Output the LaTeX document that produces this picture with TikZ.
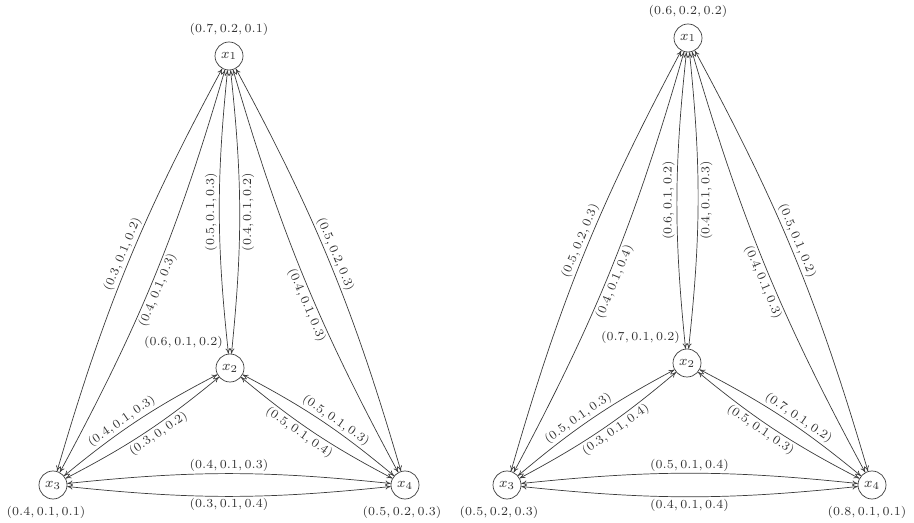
\documentclass[tikz,border=0pt]{standalone}
\usepackage{amsmath,amssymb}
\usepackage{tikz}
\usetikzlibrary{arrows.meta,positioning}
\definecolor{gline}{RGB}{60,60,60}
\definecolor{gtext}{RGB}{50,50,50}
\tikzset{
  vtx/.style={circle, draw=gline, thin, minimum size=5.6mm, inner sep=0pt,
              font=\footnotesize, text=gtext},
  vlab/.style={font=\scriptsize, text=gtext, inner sep=1pt},
  elab/.style={font=\scriptsize, text=gtext, inner sep=1pt, sloped},
  darr/.style={{To[length=1.1mm,width=1mm]}-{To[length=1.1mm,width=1mm]}, gline, thin},
}

\begin{document}
\begin{tikzpicture}[x=0.2mm, y=0.2mm]
        \useasboundingbox (0,0) rectangle (914,522);
        % left graph
        \node[vtx] (a1) at (229,466) {$x_1$};
        \node[vtx] (a2) at (230,154) {$x_2$};
        \node[vtx] (a3) at (53,37) {$x_3$};
        \node[vtx] (a4) at (405,37) {$x_4$};
        \node[vlab, above=0.8mm of a1] (ta1) {$(0.7, 0.2, 0.1)$};
        \node[vlab, above left=1.4mm and -1mm of a2] (ta2) {$(0.6, 0.1, 0.2)$};
        \node[vlab, below=0.9mm of a3, xshift=-1.4mm] (ta3) {$(0.4, 0.1, 0.1)$};
        \node[vlab, below=0.9mm of a4, xshift=-0.6mm] (ta4) {$(0.5, 0.2, 0.3)$};
        \draw[darr] (a3) to[bend left=6] node[elab, pos=0.52, above] {$(0.3,0.1,0.2)$} (a1);
        \draw[darr] (a3) to[bend right=6] node[elab, pos=0.47, below] {$(0.4,0.1,0.3)$} (a1);
        \draw[darr] (a1) to[bend left=6] node[elab, pos=0.48, above] {$(0.5,0.2,0.3)$} (a4);
        \draw[darr] (a1) to[bend right=6] node[elab, pos=0.57, below] {$(0.4,0.1,0.3)$} (a4);
        \draw[darr] (a2) to[bend left=6] node[vlab, pos=0.5, rotate=90, anchor=south] {$(0.5,0.1,0.3)$} (a1);
        \draw[darr] (a2) to[bend right=6] node[vlab, pos=0.5, rotate=90, anchor=north] {$(0.4,0.1,0.2)$} (a1);
        \draw[darr] (a3) to[bend left=6] node[elab, pos=0.42, above] {$(0.4,0.1,0.3)$} (a2);
        \draw[darr] (a3) to[bend right=6] node[elab, pos=0.56, below] {$(0.3,0,0.2)$} (a2);
        \draw[darr] (a2) to[bend left=6] node[elab, pos=0.57, above] {$(0.5,0.1,0.3)$} (a4);
        \draw[darr] (a2) to[bend right=6] node[elab, pos=0.43, below] {$(0.5,0.1,0.4)$} (a4);
        \draw[darr] (a3) to[bend left=6] node[elab, pos=0.5, above] {$(0.4,0.1,0.3)$} (a4);
        \draw[darr] (a3) to[bend right=6] node[elab, pos=0.5, below] {$(0.3,0.1,0.4)$} (a4);
        % right graph
        \node[vtx] (b1) at (688,484) {$x_1$};
        \node[vtx] (b2) at (687,159) {$x_2$};
        \node[vtx] (b3) at (507,37) {$x_3$};
        \node[vtx] (b4) at (872,37) {$x_4$};
        \node[vlab, above=0.8mm of b1] (tb1) {$(0.6, 0.2, 0.2)$};
        \node[vlab, above left=1.4mm and -1mm of b2] (tb2) {$(0.7, 0.1, 0.2)$};
        \node[vlab, below=0.9mm of b3, xshift=-1.6mm] (tb3) {$(0.5, 0.2, 0.3)$};
        \node[vlab, below=0.9mm of b4, xshift=-1mm] (tb4) {$(0.8, 0.1, 0.1)$};
        \draw[darr] (b3) to[bend left=6] node[elab, pos=0.53, above] {$(0.5,0.2,0.3)$} (b1);
        \draw[darr] (b3) to[bend right=6] node[elab, pos=0.47, below] {$(0.4,0.1,0.4)$} (b1);
        \draw[darr] (b1) to[bend left=6] node[elab, pos=0.47, above] {$(0.5,0.1,0.2)$} (b4);
        \draw[darr] (b1) to[bend right=6] node[elab, pos=0.53, below] {$(0.4,0.1,0.3)$} (b4);
        \draw[darr] (b2) to[bend left=6] node[vlab, pos=0.5, rotate=90, anchor=south] {$(0.6,0.1,0.2)$} (b1);
        \draw[darr] (b2) to[bend right=6] node[vlab, pos=0.5, rotate=90, anchor=north] {$(0.4,0.1,0.3)$} (b1);
        \draw[darr] (b3) to[bend left=6] node[elab, pos=0.43, above] {$(0.5,0.1,0.3)$} (b2);
        \draw[darr] (b3) to[bend right=6] node[elab, pos=0.57, below] {$(0.3,0.1,0.4)$} (b2);
        \draw[darr] (b2) to[bend left=6] node[elab, pos=0.57, above] {$(0.7,0.1,0.2)$} (b4);
        \draw[darr] (b2) to[bend right=6] node[elab, pos=0.43, below] {$(0.5,0.1,0.3)$} (b4);
        \draw[darr] (b3) to[bend left=6] node[elab, pos=0.5, above] {$(0.5,0.1,0.4)$} (b4);
        \draw[darr] (b3) to[bend right=6] node[elab, pos=0.5, below] {$(0.4,0.1,0.4)$} (b4);
      \end{tikzpicture}
\end{document}
